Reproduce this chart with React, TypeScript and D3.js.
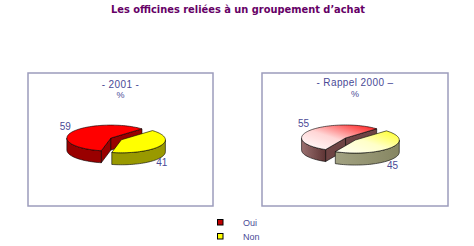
import React from "react";
import * as d3 from "d3";

// ---- data ----
const categories = ["Oui", "Non"];
const values2001 = [59, 41];
const values2000 = [55, 45];
const panelTitles = ["- 2001 -", "- Rappel 2000 \u2013"];
const unitLabel = "%";
const chartTitle = "Les officines reliées à un groupement d\u2019achat";

// ---- layout / style ----
const W = 474;
const H = 246;
const TEXT = "#4a4a96";
const FONT = "'Liberation Sans', Arial, sans-serif";

type Panel = {
  x: number;
  y: number;
  w: number;
  h: number;
  title: string;
  titleY: number;
  unitY: number;
  values: number[];
  shaded: boolean;
};

const panels: Panel[] = [
  { x: 28, y: 73, w: 185, h: 133, title: panelTitles[0], titleY: 88, unitY: 98, values: values2001, shaded: false },
  { x: 262, y: 73, w: 186, h: 133, title: panelTitles[1], titleY: 86, unitY: 97, values: values2000, shaded: true },
];

// 3D pie geometry
const RX = 44;
const RY = 13;
const DEPTH = 12;
const EXPLODE = [3, 9];
const ROTATION = (45 * Math.PI) / 180; // angle where the "Non" slice starts

type Geo = { cx: number; cy: number };

const flatColors = {
  top: ["#ff0000", "#ffff00"],
  side: ["#990000", "#999900"],
};

function slicesFor(values: number[]) {
  const total = d3.sum(values);
  const start = ROTATION + (values[1] / total) * 2 * Math.PI;
  return d3
    .pie<number>()
    .sort(null)
    .value((d) => d)
    .startAngle(start)
    .endAngle(start + 2 * Math.PI)(values);
}

function pt(g: Geo, a: number, dx: number, dy: number, down = 0): [number, number] {
  return [g.cx + dx + RX * Math.sin(a), g.cy + dy - RY * Math.cos(a) + down];
}

function arcPts(g: Geo, a0: number, a1: number, dx: number, dy: number, down = 0) {
  const n = Math.max(2, Math.ceil(Math.abs(a1 - a0) / 0.05));
  const out: [number, number][] = [];
  for (let i = 0; i <= n; i++) out.push(pt(g, a0 + ((a1 - a0) * i) / n, dx, dy, down));
  return out;
}

const line = d3.line<[number, number]>();

function visibleFront(a0: number, a1: number): [number, number][] {
  const res: [number, number][] = [];
  for (let k = -1; k <= 2; k++) {
    const lo = Math.PI / 2 + 2 * Math.PI * k;
    const hi = (3 * Math.PI) / 2 + 2 * Math.PI * k;
    const s = Math.max(a0, lo);
    const e = Math.min(a1, hi);
    if (e > s) res.push([s, e]);
  }
  return res;
}

function Pie3D({ panel, idx }: { panel: Panel; idx: number }) {
  const g: Geo = { cx: panel.x + panel.w / 2 - 7, cy: 138.5 };
  const arcs = slicesFor(panel.values);
  const order = arcs
    .map((a, i) => ({ a, i, mid: (a.startAngle + a.endAngle) / 2 }))
    .sort((p, q) => Math.cos(q.mid) - Math.cos(p.mid));

  const topFill = (i: number) => (panel.shaded ? `url(#top${idx}-${i})` : flatColors.top[i]);
  const sideFill = (i: number) => (panel.shaded ? `url(#side${idx}-${i})` : flatColors.side[i]);
  const cutFill = (i: number) => (panel.shaded ? ["#6e4444", "#7e7e5c"][i] : flatColors.side[i]);

  return (
    <g>
      {order.map(({ a, i, mid }) => {
        const e = EXPLODE[i];
        const dx = e * Math.sin(mid);
        const dy = -e * (RY / RX) * Math.cos(mid);
        const c: [number, number] = [g.cx + dx, g.cy + dy];
        const cDown: [number, number] = [c[0], c[1] + DEPTH];
        const faces: JSX.Element[] = [];
        // radial cut faces
        const startVisible = Math.sin(a.startAngle) < 0;
        const endVisible = Math.sin(a.endAngle) > 0;
        [
          [a.startAngle, startVisible],
          [a.endAngle, endVisible],
        ].forEach(([ang, vis], k) => {
          if (!vis) return;
          const p = pt(g, ang as number, dx, dy);
          const pd = pt(g, ang as number, dx, dy, DEPTH);
          faces.push(
            <path
              key={`cut${k}`}
              d={line([c, p, pd, cDown])! + "Z"}
              fill={cutFill(i)}
              stroke="#000"
              strokeWidth={0.6}
              strokeLinejoin="round"
            />
          );
        });
        // outer wall
        visibleFront(a.startAngle, a.endAngle).forEach(([s, en], k) => {
          const topArc = arcPts(g, s, en, dx, dy);
          const botArc = arcPts(g, en, s, dx, dy, DEPTH);
          faces.push(
            <path
              key={`wall${k}`}
              d={line([...topArc, ...botArc])! + "Z"}
              fill={sideFill(i)}
              stroke="#000"
              strokeWidth={0.6}
              strokeLinejoin="round"
            />
          );
        });
        // top face
        const topPts = [c, ...arcPts(g, a.startAngle, a.endAngle, dx, dy)];
        faces.push(
          <path
            key="top"
            d={line(topPts)! + "Z"}
            fill={topFill(i)}
            stroke="#000"
            strokeWidth={0.6}
            strokeLinejoin="round"
          />
        );
        return <g key={categories[i]}>{faces}</g>;
      })}
      {arcs.map((a, i) => {
        const mid = (a.startAngle + a.endAngle) / 2;
        const x = g.cx + RX * 1.25 * Math.sin(mid);
        const y = g.cy - RY * 1.9 * Math.cos(mid) + (Math.cos(mid) < 0 ? DEPTH : 0);
        return (
          <text
            key={`lbl${i}`}
            x={x}
            y={y}
            textAnchor="middle"
            dominantBaseline="central"
            fontFamily={FONT}
            fontSize={10}
            fill={TEXT}
          >
            {a.data}
          </text>
        );
      })}
    </g>
  );
}

export default function App() {
  return (
    <svg
      width={W}
      height={H}
      style={{ position: "absolute", left: 0, top: 0, background: "#fff" }}
    >
      <defs>
        <linearGradient id="top1-0" x1="0" y1="1" x2="1" y2="0">
          <stop offset="0" stopColor="#ffffff" />
          <stop offset="0.45" stopColor="#ffd6d6" />
          <stop offset="1" stopColor="#ff1010" />
        </linearGradient>
        <linearGradient id="top1-1" x1="0" y1="1" x2="1" y2="0">
          <stop offset="0" stopColor="#fffff4" />
          <stop offset="0.5" stopColor="#ffffc8" />
          <stop offset="1" stopColor="#ffff20" />
        </linearGradient>
        <linearGradient id="side1-0" x1="0" y1="0" x2="1" y2="0">
          <stop offset="0" stopColor="#9a7070" />
          <stop offset="1" stopColor="#5e3434" />
        </linearGradient>
        <linearGradient id="side1-1" x1="0" y1="0" x2="1" y2="0">
          <stop offset="0" stopColor="#a2a282" />
          <stop offset="1" stopColor="#868662" />
        </linearGradient>
      </defs>

      <text
        x={238}
        y={13}
        textAnchor="middle"
        fontFamily="'DejaVu Sans', sans-serif"
        fontWeight="bold"
        fontSize={10}
        fill="#660066"
        textLength={254}
        lengthAdjust="spacingAndGlyphs"
      >
        {chartTitle}
      </text>

      {panels.map((p, idx) => (
        <g key={p.title}>
          <rect x={p.x} y={p.y} width={p.w} height={p.h} fill="#fff" stroke="#9c9cbc" strokeWidth={1.5} />
          <text
            x={p.x + p.w / 2}
            y={p.titleY}
            textAnchor="middle"
            fontFamily={FONT}
            fontSize={10}
            letterSpacing={0.4}
            fill={TEXT}
          >
            {p.title}
          </text>
          <text x={p.x + p.w / 2} y={p.unitY} textAnchor="middle" fontFamily={FONT} fontSize={9} fill={TEXT}>
            {unitLabel}
          </text>
          <Pie3D panel={p} idx={idx} />
        </g>
      ))}

      {categories.map((c, i) => (
        <g key={c}>
          <rect
            x={217.5}
            y={219.5 + i * 14}
            width={5.5}
            height={5.5}
            fill={["#c00000", "#ffff00"][i]}
            stroke="#000"
            strokeWidth={1}
          />
          <text x={243} y={226 + i * 14} fontFamily={FONT} fontSize={9} fill={TEXT}>
            {c}
          </text>
        </g>
      ))}
    </svg>
  );
}
